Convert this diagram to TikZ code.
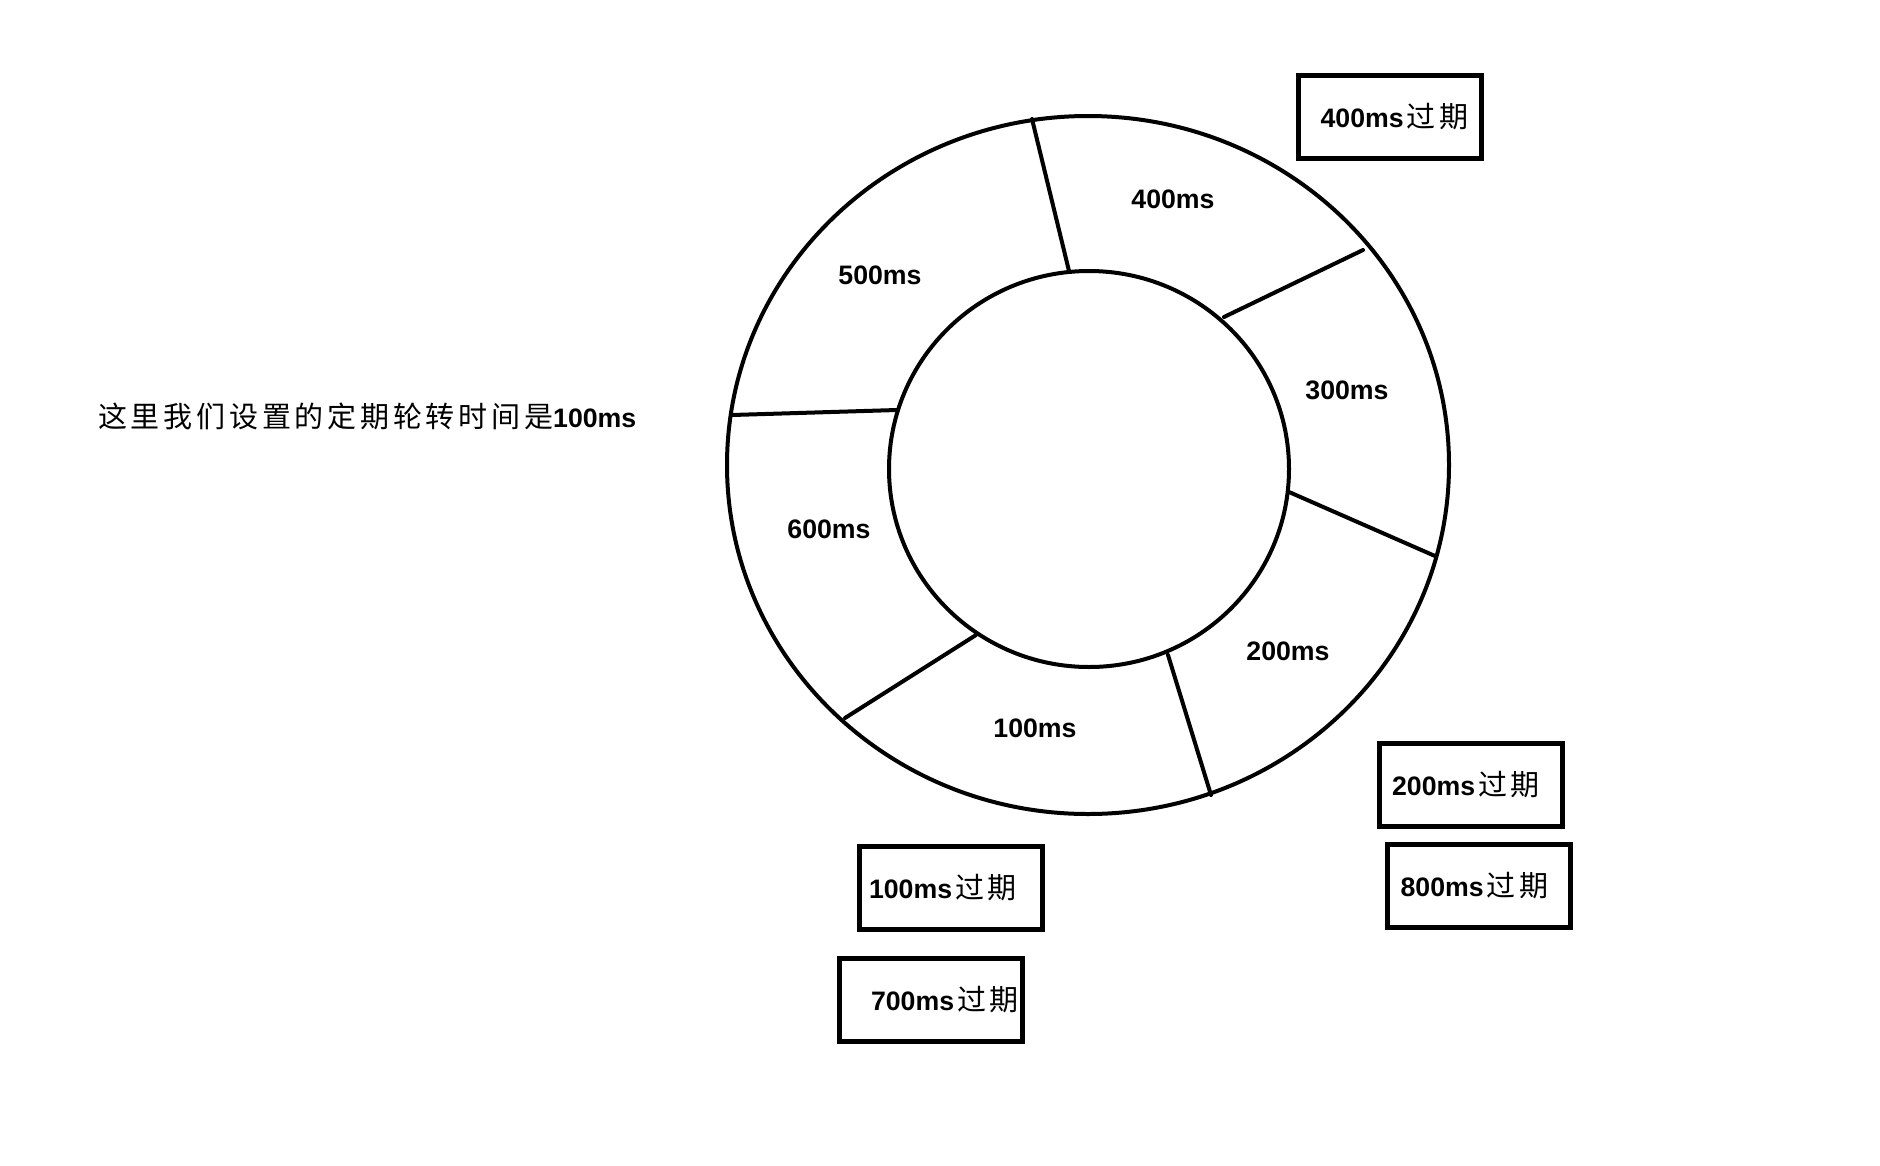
\documentclass[tikz,border=0pt]{standalone}
\usepackage{fontspec}
\setmainfont{Liberation Sans}
\newfontfamily\cjk[LetterSpace=13]{Noto Sans CJK SC}
\usepackage{xcolor}
\usepackage{tikz}
\usetikzlibrary{positioning}
\definecolor{WheelInk}{HTML}{000000}
\definecolor{WheelPaper}{HTML}{FFFFFF}
\tikzset{
  ring/.style={draw=WheelInk,line width=4pt},
  spoke/.style={draw=WheelInk,line width=4pt,line cap=round},
  slotlabel/.style={inner sep=0pt,text=WheelInk,font=\fontsize{26.7}{32}\selectfont\bfseries},
  taskbox/.style={draw=WheelInk,line width=5pt,fill=WheelPaper,minimum width=183pt,
    minimum height=83pt,inner sep=0pt,font=\fontsize{26.7}{32}\selectfont\bfseries},
  note/.style={anchor=west,inner sep=0pt,text=WheelInk,font=\fontsize{26.7}{32}\selectfont\bfseries}
}
\newcommand\overdue{{\fontsize{29}{32}\mdseries\cjk\hspace{3pt}过期}}

\begin{document}
\begin{tikzpicture}[x=1pt,y=-1pt]
  \useasboundingbox[fill=WheelPaper] (0,0) rectangle (1880,1165);
  % wheel
  \draw[ring] (1088,465) ellipse [x radius=361,y radius=349];
  \draw[ring] (1089,469) ellipse [x radius=200,y radius=198];
  \foreach \ix/\iy/\ox/\oy in {1069/271/1032/119,1224/317/1363/250,1289/492/1435/556,
      1168/655/1211/795,976/635/845/718,897/410/732/415} {
    \draw[spoke] (\ix,\iy) -- (\ox,\oy);
  }
  % slots
  \foreach \name/\x/\y in {400/1173/199,500/880/275,300/1347/390,600/829/529,200/1288/651,100/1035/728} {
    \node[slotlabel] (slot\name) at (\x,\y) {\name ms};
  }
  % expiring tasks
  \node[taskbox] (task400) at (1389.5,116.5) {\hspace*{10pt}400ms\overdue};
  \node[taskbox] (task200) at (1471,785) {200ms\overdue\hspace*{10pt}};
  \node[taskbox] (task800) at (1478.5,886) {800ms\overdue\hspace*{8pt}};
  \node[taskbox] (task100) at (951,888) {100ms\overdue\hspace*{16pt}};
  \node[taskbox] (task700) at (931,1000) {\hspace*{28pt}700ms\overdue};
  \node[note] (tick) at (98,416) {{\fontsize{29}{34}\mdseries\cjk 这里我们设置的定期轮转时间是}100ms};
\end{tikzpicture}
\end{document}
